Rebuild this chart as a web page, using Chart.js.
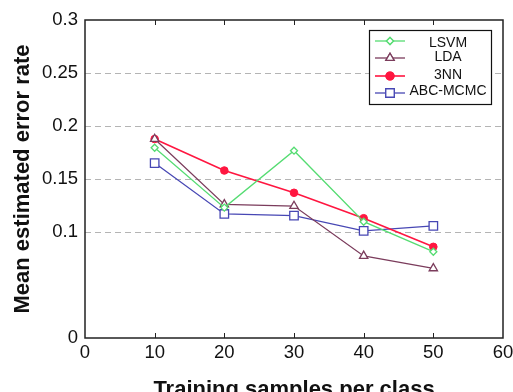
<!DOCTYPE html>
<html lang="en">
<head>
    <meta charset="UTF-8">
    <title>Mean estimated error rate</title>
    <script src="https://cdn.jsdelivr.net/npm/chart.js"></script>
    <style>
        body {
            margin: 0;
            background: #fff;
        }
        .chart-box {
            width: 513px;
            height: 392px;
        }
    </style>
</head>
<body>
    <div class="chart-box">
        <canvas id="errChart" width="513" height="392"></canvas>
    </div>

    <script>
        // Data
        const samples = [10, 20, 30, 40, 50];
        const lsvm = [0.1795, 0.123, 0.1767, 0.1097, 0.0814];
        const lda = [0.1877, 0.126, 0.1245, 0.0774, 0.0657];
        const knn3 = [0.1877, 0.158, 0.137, 0.113, 0.086];
        const abcMcmc = [0.165, 0.117, 0.1154, 0.101, 0.1057];
        const xTicks = [0, 10, 20, 30, 40, 50, 60];
        const yTicks = [0, 0.1, 0.15, 0.2, 0.25, 0.3];
        const gridValues = [0.1, 0.15, 0.2, 0.25];

        const font = 'Liberation Sans, Arial, sans-serif';

        function pts(vals) {
            return samples.map((x, i) => ({ x: x, y: vals[i] }));
        }

        // Dashed grid, box frame, inward ticks and the boxed legend
        const framePlugin = {
            id: 'frame',
            beforeDatasetsDraw(chart) {
                const { ctx, chartArea: a, scales: { y } } = chart;
                ctx.save();
                ctx.strokeStyle = '#b4b4b4';
                ctx.lineWidth = 1.2;
                ctx.setLineDash([6, 4]);
                gridValues.forEach(v => {
                    const py = Math.round(y.getPixelForValue(v)) + 0.5;
                    ctx.beginPath();
                    ctx.moveTo(a.left, py);
                    ctx.lineTo(a.right, py);
                    ctx.stroke();
                });
                ctx.restore();
            },
            afterDatasetsDraw(chart) {
                const { ctx, chartArea: a, scales: { x } } = chart;
                ctx.save();
                ctx.strokeStyle = '#222';
                ctx.lineWidth = 1.5;
                ctx.strokeRect(a.left, a.top, a.right - a.left, a.bottom - a.top);
                ctx.lineWidth = 1;
                xTicks.slice(1, -1).forEach(v => {
                    const px = Math.round(x.getPixelForValue(v)) + 0.5;
                    ctx.beginPath();
                    ctx.moveTo(px, a.bottom);
                    ctx.lineTo(px, a.bottom - 5);
                    ctx.moveTo(px, a.top);
                    ctx.lineTo(px, a.top + 5);
                    ctx.stroke();
                });

                // legend
                const lx = 369, ly = 30, lw = 122, lh = 74;
                ctx.fillStyle = '#fff';
                ctx.fillRect(lx, ly, lw, lh);
                ctx.strokeStyle = '#111';
                ctx.lineWidth = 1.2;
                ctx.strokeRect(lx + 0.5, ly + 0.5, lw, lh);
                const rows = [41, 58, 76, 93];
                const textRows = [43, 57.5, 75.5, 91];
                chart.data.datasets.forEach((ds, i) => {
                    const ry = rows[i];
                    ctx.strokeStyle = ds.borderColor;
                    ctx.lineWidth = ds.borderWidth;
                    ctx.beginPath();
                    ctx.moveTo(375, ry);
                    ctx.lineTo(405, ry);
                    ctx.stroke();
                    Chart.helpers.drawPoint(ctx, {
                        pointStyle: ds.pointStyle,
                        radius: ds.pointRadius,
                        borderWidth: ds.pointBorderWidth,
                        rotation: 0
                    }, 390, ry);
                    ctx.fillStyle = ds.pointBackgroundColor;
                    ctx.fill();
                    ctx.stroke();
                    ctx.fillStyle = '#111';
                    ctx.font = '14px ' + font;
                    ctx.textAlign = 'center';
                    ctx.textBaseline = 'middle';
                    ctx.fillText(ds.label, 448, textRows[i]);
                });
                ctx.restore();
            }
        };

        new Chart(document.getElementById('errChart'), {
            type: 'line',
            data: {
                datasets: [
                    {
                        label: 'LSVM',
                        data: pts(lsvm),
                        borderColor: '#55dc72',
                        backgroundColor: '#55dc72',
                        borderWidth: 1.3,
                        pointStyle: 'rectRot',
                        pointRadius: 3.5,
                        pointBorderWidth: 1.3,
                        pointBackgroundColor: '#ffffff'
                    },
                    {
                        label: 'LDA',
                        data: pts(lda),
                        borderColor: '#7b3c5c',
                        backgroundColor: '#7b3c5c',
                        borderWidth: 1.3,
                        pointStyle: 'triangle',
                        pointRadius: 4.8,
                        pointBorderWidth: 1.3,
                        pointBackgroundColor: '#ffffff'
                    },
                    {
                        label: '3NN',
                        data: pts(knn3),
                        borderColor: '#ff1640',
                        backgroundColor: '#ff1640',
                        borderWidth: 1.6,
                        pointStyle: 'circle',
                        pointRadius: 3.8,
                        pointBorderWidth: 1,
                        pointBackgroundColor: '#ff1640'
                    },
                    {
                        label: 'ABC-MCMC',
                        data: pts(abcMcmc),
                        borderColor: '#4747b4',
                        backgroundColor: '#4747b4',
                        borderWidth: 1.3,
                        pointStyle: 'rect',
                        pointRadius: 6,
                        pointBorderWidth: 1.3,
                        pointBackgroundColor: '#ffffff'
                    }
                ]
            },
            options: {
                responsive: false,
                animation: false,
                layout: {
                    padding: { top: 20, right: 10, left: 0, bottom: 0 }
                },
                plugins: {
                    legend: { display: false },
                    tooltip: { enabled: false }
                },
                scales: {
                    x: {
                        type: 'linear',
                        min: 0,
                        max: 60,
                        afterBuildTicks: s => { s.ticks = xTicks.map(v => ({ value: v })); },
                        afterFit: s => {
                            s.height = 54;
                            s.paddingLeft = 0;
                            s.paddingRight = 0;
                        },
                        grid: { display: false, drawTicks: false },
                        border: { display: false },
                        ticks: {
                            autoSkip: false,
                            maxRotation: 0,
                            padding: 4,
                            color: '#111',
                            font: { family: font, size: 18.5 }
                        },
                        title: {
                            display: true,
                            text: 'Training samples per class',
                            color: '#111',
                            font: { family: font, size: 22, weight: 'bold' },
                            padding: { top: 0, bottom: -11 }
                        }
                    },
                    y: {
                        min: 0,
                        max: 0.3,
                        afterBuildTicks: s => { s.ticks = yTicks.map(v => ({ value: v })); },
                        afterFit: s => {
                            s.width = 85;
                            s.paddingTop = 0;
                            s.paddingBottom = 0;
                        },
                        grid: { display: false, drawTicks: false },
                        border: { display: false },
                        ticks: {
                            padding: 7,
                            color: '#111',
                            font: { family: font, size: 18.5 },
                            callback: v => String(Math.round(v * 100) / 100)
                        },
                        title: {
                            display: true,
                            text: 'Mean estimated error rate',
                            color: '#111',
                            font: { family: font, size: 22, weight: 'bold' },
                            padding: { top: 10, bottom: 0 }
                        }
                    }
                }
            },
            plugins: [framePlugin]
        });
    </script>
</body>
</html>
